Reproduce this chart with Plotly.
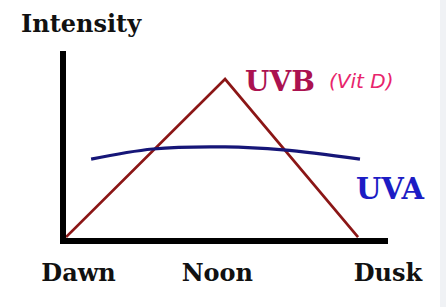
import plotly.graph_objects as go

# --- data (unitless intensity vs. time of day) ---
uvb_x = [0.0, 49.4, 90.7]
uvb_y = [0.5, 85.0, 0.5]

uva_x = [7.8, 27.0, 49.4, 67.4, 91.3]
uva_y = [42.2, 47.6, 48.7, 47.1, 42.2]

tick_vals = [3.9, 47.0, 100]
tick_text = ["<b>Dawn</b>", "<b>Noon</b>", "<b>Dusk</b>"]

W, H = 446, 307
L, R, T, B = 66, 388, 51, 238

fig = go.Figure()
fig.add_trace(go.Scatter(x=uvb_x, y=uvb_y, mode="lines",
                         line=dict(color="#8b1616", width=2.7), hoverinfo="skip"))
fig.add_trace(go.Scatter(x=uva_x, y=uva_y, mode="lines",
                         line=dict(color="#161678", width=3.2, shape="spline"), hoverinfo="skip"))

serif = "DejaVu Serif"
fig.update_layout(
    width=W, height=H,
    margin=dict(l=L, r=W - R, t=T, b=H - B, pad=0),
    paper_bgcolor="white", plot_bgcolor="white",
    showlegend=False,
    xaxis=dict(range=[0, 100], showgrid=False, zeroline=False,
               showline=True, linecolor="black", linewidth=6,
               tickvals=tick_vals, ticktext=tick_text, ticks="",
               ticklabelstandoff=8,
               tickfont=dict(family=serif, size=24, color="#111111"),
               fixedrange=True),
    yaxis=dict(range=[0, 100], showgrid=False, zeroline=False,
               showline=True, linecolor="black", linewidth=6,
               showticklabels=False, ticks="", fixedrange=True),
    annotations=[
        dict(text="<b>Intensity</b>", xref="paper", yref="paper",
             x=(81.5 - L) / (R - L), y=(B - 23.5) / (B - T), showarrow=False,
             xanchor="center", yanchor="middle",
             font=dict(family=serif, size=24, color="#111111")),
        dict(text="<b>UVB</b>", xref="x", yref="y", x=55.0, y=83.7,
             showarrow=False, xanchor="left", yanchor="middle",
             font=dict(family=serif, size=28, color="#ab1250")),
        dict(text="<i>(Vit D)</i>", xref="x", yref="y", x=80.9, y=84.0,
             showarrow=False, xanchor="left", yanchor="middle",
             font=dict(family="DejaVu Sans", size=20, color="#e8246c")),
        dict(text="<b>UVA</b>", xref="x", yref="y", x=89.4, y=26.0,
             showarrow=False, xanchor="left", yanchor="middle",
             font=dict(family=serif, size=29, color="#1c1cc4")),
    ],
    shapes=[
        dict(type="rect", xref="paper", yref="paper",
             x0=(440 - L) / (R - L), x1=(447 - L) / (R - L), y0=-2, y1=2,
             fillcolor="#f0f2f5", line=dict(width=0), layer="below"),
    ],
)

fig.write_html("out.html", config={"displayModeBar": False})
